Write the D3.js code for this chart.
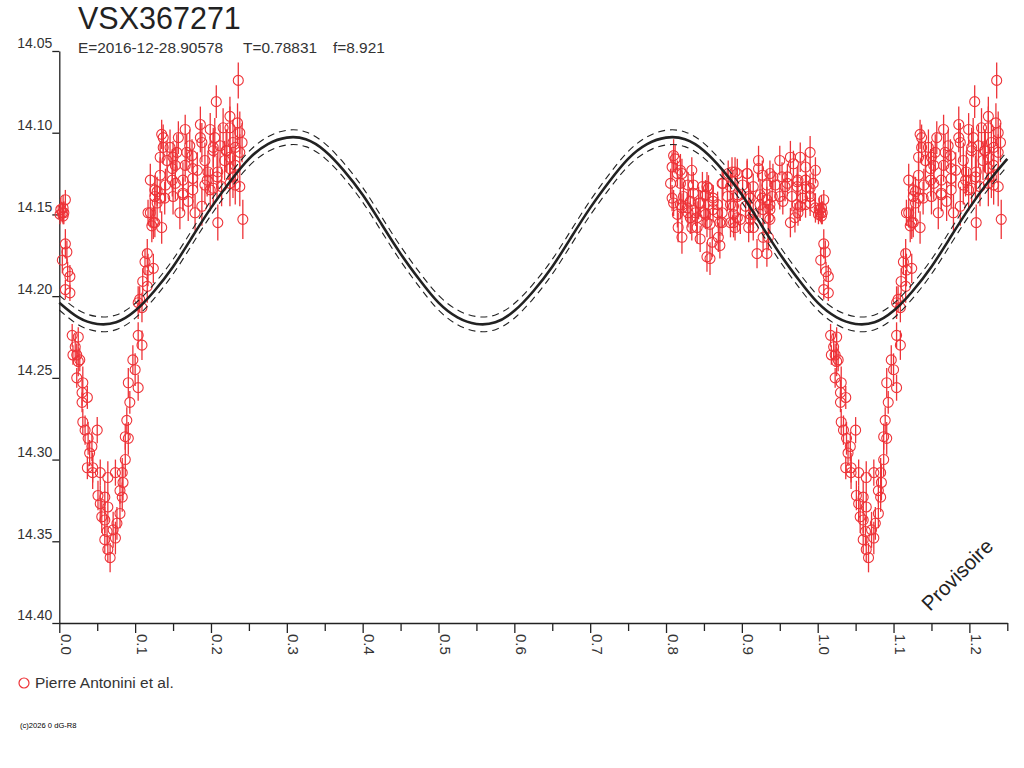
<!DOCTYPE html>
<html><head><meta charset="utf-8">
<script src="https://cdn.jsdelivr.net/npm/d3@7/dist/d3.min.js"></script>
<style>
body{margin:0;background:#fff}
svg{display:block}
text{font-family:"Liberation Sans",Arial,sans-serif}
</style>
</head><body>
<svg id="chart" width="1024" height="768"></svg>
<script>
// ---------- texts ----------
const titleText = "VSX367271";
const subtitleParts = ["E=2016-12-28.90578", "T=0.78831", "f=8.921"];
const legendLabel = "Pierre Antonini et al.";
const copyrightText = "(c)2026 0 dG-R8";
const watermarkText = "Provisoire";

// ---------- axes ----------
const xDomain = [0, 1.25];
const yDomain = [14.05, 14.40];
const yTicks = [14.05, 14.10, 14.15, 14.20, 14.25, 14.30, 14.35, 14.40];
const xMajorTicks = [0.0, 0.1, 0.2, 0.3, 0.4, 0.5, 0.6, 0.7, 0.8, 0.9, 1.0, 1.1, 1.2];
const xMinorTicks = [0.05, 0.15, 0.25, 0.35, 0.45, 0.55, 0.65, 0.75, 0.85, 0.95, 1.05, 1.15, 1.25];

// ---------- model curve ----------
const modelPhase = [0.000,0.025,0.050,0.075,0.100,0.125,0.150,0.175,0.200,0.225,0.250,0.275,0.300,0.325,0.350,0.375,0.400,0.425,0.450,0.475,
  0.500,0.525,0.550,0.575,0.600,0.625,0.650,0.675,0.700,0.725,0.750,0.775,0.800,0.825,0.850,0.875,0.900,0.925,0.950,0.975,
  1.000,1.025,1.050,1.075,1.100,1.125,1.150,1.175,1.200,1.225,1.250];
const modelMag = [14.204,14.213,14.217,14.216,14.209,14.197,14.182,14.164,14.146,14.130,14.116,14.107,14.103,14.104,14.111,14.123,14.138,14.156,14.174,14.190,
  14.204,14.213,14.217,14.216,14.209,14.197,14.182,14.164,14.146,14.130,14.116,14.107,14.103,14.104,14.111,14.123,14.138,14.156,14.174,14.190,
  14.204,14.213,14.217,14.216,14.209,14.197,14.182,14.164,14.146,14.130,14.116];
const modelSigma = 0.0045;

// ---------- observations [phase, mag, err] ----------
const dipData = [
 [0.001,14.150,0.006],[0.002,14.147,0.007],[0.004,14.149,0.006],[0.005,14.146,0.008],[0.006,14.149,0.007],[0.008,14.141,0.006],[0.005,14.151,0.005],
 [0.008,14.168,0.009],[0.010,14.173,0.007],[0.004,14.178,0.008],[0.011,14.185,0.006],[0.014,14.188,0.007],[0.008,14.196,0.006],[0.014,14.198,0.005],
 [0.017,14.224,0.007],[0.025,14.225,0.006],[0.021,14.231,0.008],[0.023,14.236,0.007],[0.018,14.236,0.006],[0.025,14.240,0.009],[0.027,14.239,0.007],
 [0.023,14.250,0.006],[0.031,14.253,0.010],[0.030,14.259,0.008],[0.037,14.262,0.007],[0.030,14.265,0.006],[0.031,14.277,0.008],[0.034,14.282,0.009],
 [0.050,14.282,0.008],[0.038,14.287,0.010],[0.043,14.292,0.009],[0.040,14.296,0.008],[0.037,14.305,0.007],[0.044,14.305,0.009],[0.044,14.308,0.010],
 [0.054,14.308,0.008],[0.051,14.322,0.009],[0.064,14.311,0.010],[0.074,14.308,0.008],[0.060,14.323,0.010],[0.054,14.327,0.011],[0.064,14.329,0.009],
 [0.056,14.335,0.010],[0.060,14.337,0.008],[0.080,14.333,0.009],[0.076,14.339,0.010],[0.071,14.343,0.011],[0.063,14.344,0.009],[0.060,14.349,0.008],
 [0.074,14.348,0.010],[0.064,14.355,0.008],[0.067,14.360,0.009],
 [0.087,14.300,0.010],[0.083,14.308,0.009],[0.084,14.314,0.011],[0.080,14.319,0.008],[0.083,14.323,0.009],[0.087,14.286,0.008],[0.091,14.287,0.010],
 [0.089,14.276,0.008],[0.093,14.265,0.007],[0.091,14.253,0.009],[0.104,14.256,0.008],[0.100,14.245,0.010],[0.097,14.239,0.009],[0.104,14.224,0.008],
 [0.109,14.230,0.009],[0.104,14.204,0.010],[0.106,14.202,0.008],[0.109,14.207,0.009],[0.110,14.191,0.008],[0.116,14.194,0.010],[0.116,14.174,0.009],
 [0.113,14.179,0.008],[0.117,14.184,0.010],[0.124,14.183,0.009]
];
const plateauData = [
 [0.120,14.149,0.009],[0.124,14.155,0.010],[0.129,14.143,0.011],[0.126,14.139,0.009],[0.117,14.149,0.008],[0.122,14.157,0.010],[0.126,14.155,0.009],
 [0.135,14.158,0.010],[0.236,14.068,0.011],[0.207,14.081,0.010],[0.225,14.090,0.012],[0.238,14.100,0.013],[0.241,14.106,0.012],[0.238,14.112,0.011],
 [0.135,14.101,0.009],[0.137,14.103,0.008],[0.157,14.103,0.010],[0.166,14.098,0.009],[0.186,14.095,0.011],[0.199,14.098,0.010],[0.205,14.103,0.012],
 [0.186,14.103,0.009],[0.216,14.097,0.012],[0.225,14.097,0.013],[0.137,14.109,0.010],[0.146,14.109,0.011],[0.133,14.115,0.010],[0.142,14.117,0.012],
 [0.155,14.112,0.011],[0.175,14.114,0.010],[0.188,14.106,0.012],[0.203,14.111,0.011],[0.212,14.108,0.013],[0.229,14.106,0.014],[0.120,14.129,0.010],
 [0.133,14.126,0.011],[0.149,14.122,0.012],[0.166,14.120,0.010],[0.182,14.123,0.011],[0.196,14.124,0.013],[0.209,14.124,0.012],[0.149,14.129,0.010],
 [0.163,14.129,0.011],[0.176,14.128,0.012],[0.195,14.129,0.010],[0.208,14.127,0.013],[0.133,14.140,0.009],[0.150,14.139,0.011],[0.163,14.137,0.010],
 [0.170,14.142,0.012],[0.159,14.149,0.010],[0.179,14.149,0.011],[0.188,14.145,0.012],[0.199,14.135,0.013],[0.214,14.133,0.012],[0.225,14.131,0.014],
 [0.238,14.133,0.012],[0.209,14.155,0.011],[0.242,14.153,0.012],[0.225,14.115,0.013],[0.225,14.122,0.012],[0.220,14.111,0.013],[0.218,14.117,0.012],
 [0.232,14.120,0.013],[0.192,14.117,0.011],[0.172,14.108,0.010],[0.153,14.120,0.011],[0.140,14.132,0.010],[0.126,14.135,0.009],
 [0.235,14.094,0.012],[0.221,14.111,0.013],[0.232,14.109,0.012],[0.139,14.140,0.010],[0.176,14.122,0.011],[0.192,14.132,0.012],[0.203,14.134,0.011],
 [0.229,14.127,0.013],[0.232,14.132,0.012],[0.153,14.131,0.010],[0.129,14.136,0.009],[0.176,14.135,0.011],[0.150,14.115,0.010],[0.168,14.112,0.011],
 [0.203,14.109,0.012],[0.163,14.138,0.010]
];
const maxData = [
 [0.810,14.114,0.010],[0.808,14.121,0.009],[0.815,14.125,0.008],[0.821,14.125,0.009],[0.834,14.123,0.008],[0.806,14.131,0.009],[0.819,14.131,0.010],
 [0.829,14.132,0.008],[0.848,14.133,0.009],[0.856,14.134,0.008],[0.874,14.131,0.009],[0.882,14.125,0.008],[0.891,14.124,0.009],[0.808,14.140,0.008],
 [0.823,14.139,0.009],[0.836,14.137,0.008],[0.852,14.138,0.009],[0.862,14.140,0.008],[0.881,14.139,0.009],[0.810,14.143,0.008],[0.819,14.144,0.009],
 [0.832,14.142,0.008],[0.843,14.143,0.010],[0.856,14.144,0.009],[0.868,14.144,0.008],[0.885,14.144,0.009],[0.815,14.150,0.008],[0.829,14.149,0.009],
 [0.841,14.152,0.010],[0.852,14.150,0.009],[0.862,14.147,0.008],[0.874,14.149,0.009],[0.889,14.150,0.008],[0.816,14.158,0.009],[0.834,14.158,0.008],
 [0.841,14.158,0.010],[0.858,14.156,0.009],[0.874,14.155,0.008],[0.885,14.155,0.009],[0.821,14.164,0.010],[0.869,14.164,0.009],[0.871,14.169,0.008],
 [0.854,14.176,0.009],[0.858,14.177,0.010],[0.839,14.149,0.008],[0.821,14.146,0.009],[0.845,14.165,0.008],[0.861,14.167,0.009],
 [0.922,14.117,0.009],[0.922,14.122,0.008],[0.950,14.117,0.009],[0.964,14.115,0.010],[0.977,14.115,0.009],[0.990,14.112,0.010],[0.968,14.119,0.008],
 [0.984,14.121,0.009],[0.997,14.123,0.008],[0.894,14.125,0.009],[0.907,14.125,0.008],[0.927,14.126,0.009],[0.941,14.127,0.008],[0.953,14.127,0.009],
 [0.960,14.127,0.008],[0.974,14.129,0.009],[0.984,14.129,0.008],[0.994,14.131,0.009],[0.885,14.133,0.008],[0.901,14.132,0.009],[0.915,14.133,0.008],
 [0.933,14.132,0.009],[0.944,14.132,0.008],[0.957,14.133,0.009],[0.973,14.133,0.008],[0.990,14.134,0.009],[0.894,14.139,0.008],[0.909,14.139,0.009],
 [0.927,14.140,0.008],[0.940,14.139,0.009],[0.950,14.139,0.008],[0.966,14.139,0.009],[0.980,14.140,0.008],[0.990,14.139,0.009],[0.889,14.145,0.008],
 [0.905,14.145,0.009],[0.924,14.144,0.008],[0.937,14.144,0.009],[0.954,14.142,0.008],[0.973,14.144,0.009],[0.984,14.144,0.008],[0.997,14.146,0.009],
 [0.894,14.152,0.008],[0.898,14.153,0.009],[0.911,14.150,0.008],[0.928,14.147,0.009],[0.935,14.152,0.008],[0.970,14.152,0.009],[0.974,14.149,0.008],
 [0.964,14.155,0.009],[0.891,14.158,0.008],[0.909,14.158,0.009],[0.915,14.158,0.008],[0.928,14.164,0.009],[0.935,14.164,0.008],[0.920,14.174,0.009],
 [0.933,14.174,0.008],
 [0.828,14.146,0.009],[0.845,14.143,0.008],[0.862,14.142,0.009],[0.868,14.149,0.008],[0.850,14.149,0.009],[0.832,14.152,0.010],[0.854,14.155,0.009],
 [0.871,14.155,0.008],[0.889,14.155,0.009],[0.911,14.153,0.008],[0.937,14.153,0.009],[0.937,14.147,0.008],[0.915,14.150,0.009],[0.960,14.131,0.008],
 [0.973,14.130,0.009],[0.985,14.133,0.008],[0.977,14.145,0.009],[0.990,14.143,0.008],[0.924,14.138,0.009],[0.933,14.141,0.008],[0.911,14.140,0.009],
 [0.894,14.138,0.008],[0.907,14.125,0.009],[0.937,14.125,0.008],[0.887,14.124,0.009],[0.875,14.131,0.008],[0.854,14.133,0.009],[0.836,14.132,0.008],
 [0.812,14.116,0.009],[0.819,14.123,0.010]
];

// ---------- styles ----------
const RED = "#ee3338";
const INK = "#222";
const FONT = '"Liberation Sans",Arial,sans-serif';

const svg = d3.select("#chart");
const x = d3.scaleLinear().domain(xDomain).range([59.3, 1007.3]);
const y = d3.scaleLinear().domain(yDomain).range([51, 623]);

// phase-folded observations: phases below 0.25 are repeated one cycle later
const obs = [...dipData, ...plateauData, ...maxData];
const shown = obs.concat(obs.filter(d => d[0] + 1 <= xDomain[1]).map(d => [d[0] + 1, d[1], d[2]]));

// ---------- axes ----------
const yAxis = d3.axisLeft(y).tickValues(yTicks).tickSize(7).tickSizeOuter(0).tickPadding(0).tickFormat(d3.format(".2f"));
const gy = svg.append("g").attr("transform", "translate(59.3,0)").call(yAxis);
gy.selectAll("text").attr("dy", "-0.22em").attr("font-size", 14).attr("fill", "#333").attr("font-family", FONT);

const xAxis = d3.axisBottom(x).tickValues(xMajorTicks).tickSize(10).tickSizeOuter(0).tickFormat(d3.format(".1f"));
const gx = svg.append("g").attr("transform", "translate(0,623)").call(xAxis);
gx.selectAll("text").attr("transform", "rotate(90)").attr("x", 11).attr("y", -1).attr("dy", "0")
  .attr("text-anchor", "start").attr("font-size", 15).attr("fill", "#333").attr("font-family", FONT);

const xMinorAxis = d3.axisBottom(x).tickValues(xMinorTicks).tickSize(8).tickSizeOuter(0).tickFormat("");
const gxm = svg.append("g").attr("transform", "translate(0,623)").call(xMinorAxis);
gxm.select(".domain").remove();

svg.selectAll(".domain, .tick line").attr("stroke", INK).attr("stroke-width", 1.3);

// ---------- observations ----------
const gObs = svg.append("g");
gObs.selectAll("line.err").data(shown).join("line").attr("class", "err")
  .attr("x1", d => x(d[0])).attr("x2", d => x(d[0]))
  .attr("y1", d => y(d[1] - d[2])).attr("y2", d => y(d[1] + d[2]))
  .attr("stroke", RED).attr("stroke-width", 1.3);
gObs.selectAll("circle").data(shown).join("circle")
  .attr("cx", d => x(d[0])).attr("cy", d => y(d[1])).attr("r", 5)
  .attr("fill", "none").attr("stroke", RED).attr("stroke-width", 1.1);

// ---------- model ----------
const model = modelPhase.map((p, i) => [p, modelMag[i]]);
const line = d3.line().x(d => x(d[0])).y(d => y(d[1])).curve(d3.curveNatural);
svg.append("path").datum(model.map(d => [d[0], d[1] - modelSigma])).attr("d", line)
  .attr("fill", "none").attr("stroke", INK).attr("stroke-width", 1.1).attr("stroke-dasharray", "7,5");
svg.append("path").datum(model.map(d => [d[0], d[1] + modelSigma])).attr("d", line)
  .attr("fill", "none").attr("stroke", INK).attr("stroke-width", 1.1).attr("stroke-dasharray", "7,5");
svg.append("path").datum(model).attr("d", line)
  .attr("fill", "none").attr("stroke", INK).attr("stroke-width", 2.6);

// ---------- texts ----------
svg.append("text").attr("x", 78).attr("y", 29).attr("font-size", 30.5).attr("fill", INK).text(titleText);
const subX = [78, 243, 333];
svg.selectAll("text.sub").data(subtitleParts).join("text").attr("class", "sub")
  .attr("x", (d, i) => subX[i]).attr("y", 53).attr("font-size", 15.4).attr("fill", "#333").text(d => d);

svg.append("circle").attr("cx", 24).attr("cy", 683).attr("r", 5).attr("fill", "none").attr("stroke", RED).attr("stroke-width", 1.2);
svg.append("text").attr("x", 35).attr("y", 688).attr("font-size", 15.5).attr("fill", "#333").text(legendLabel);

svg.append("text").attr("x", 20).attr("y", 728).attr("font-size", 7.6).attr("fill", "#000").text(copyrightText);

svg.append("text").attr("transform", "translate(930,612) rotate(-45)").attr("font-size", 20.5).attr("fill", INK).text(watermarkText);
</script>
</body></html>
